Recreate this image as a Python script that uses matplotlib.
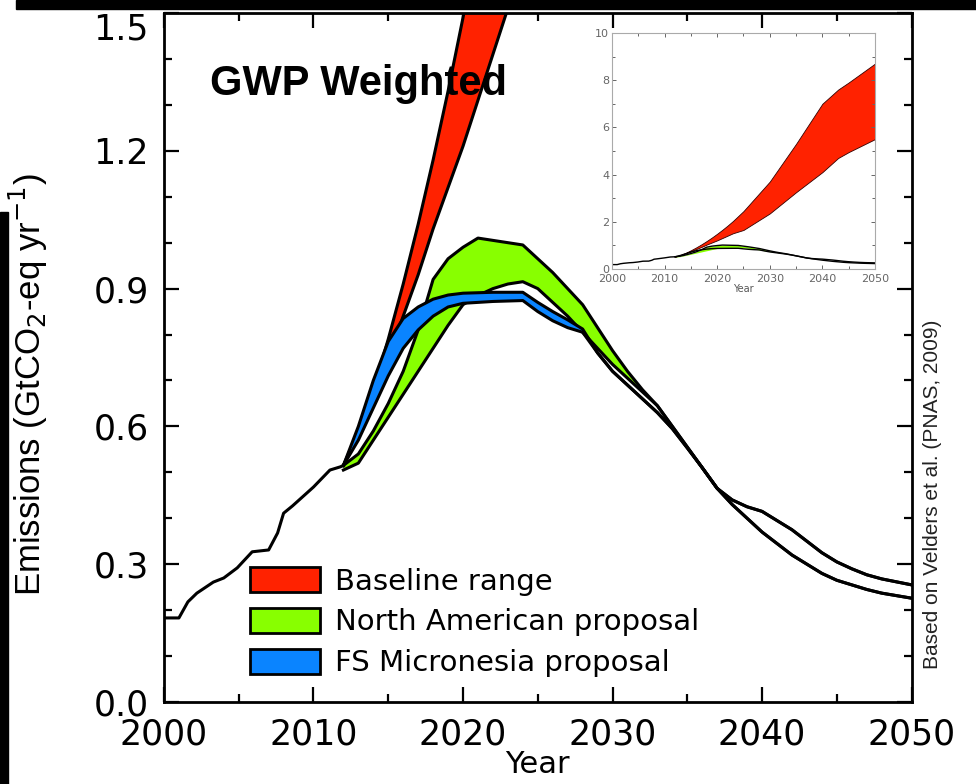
import matplotlib.pyplot as plt
from matplotlib.patches import Patch, Rectangle
from matplotlib.ticker import MultipleLocator, FormatStrFormatter
from matplotlib.transforms import ScaledTranslation

# historical emissions (single line)
hist_years = [2000, 2001, 2001.6, 2002.2, 2003.3, 2004, 2004.9, 2005.9, 2007, 2007.6,
              2008, 2008.6, 2010, 2011.1, 2011.8, 2012]
hist_vals = [0.183, 0.183, 0.218, 0.237, 0.261, 0.27, 0.292, 0.327, 0.331, 0.368,
             0.411, 0.427, 0.468, 0.505, 0.512, 0.515]

# baseline range
base_years = [2012, 2013, 2014, 2015, 2016, 2017, 2018, 2019, 2020, 2021, 2022, 2023,
              2025, 2030, 2035, 2040, 2043, 2045, 2050]
base_high = [0.515, 0.59, 0.68, 0.79, 0.91, 1.04, 1.18, 1.33, 1.49, 1.66, 1.84, 2.03,
             2.45, 3.7, 5.3, 7.0, 7.6, 7.9, 8.7]
base_low = [0.515, 0.58, 0.66, 0.75, 0.84, 0.93, 1.03, 1.12, 1.21, 1.31, 1.41, 1.51,
            1.65, 2.35, 3.25, 4.1, 4.7, 4.95, 5.5]

# North American proposal
na_years = [2012, 2013, 2014, 2015, 2016, 2017, 2018, 2019, 2020, 2021, 2022, 2023,
            2024, 2025, 2026, 2027, 2028, 2029, 2030, 2031, 2032, 2033, 2034, 2035,
            2036, 2037, 2038, 2039, 2040, 2041, 2042, 2043, 2044, 2045, 2046, 2047,
            2048, 2050]
na_high = [0.515, 0.54, 0.59, 0.65, 0.72, 0.81, 0.92, 0.965, 0.99, 1.01, 1.005, 1.0,
           0.995, 0.965, 0.935, 0.9, 0.865, 0.815, 0.765, 0.72, 0.68, 0.645, 0.6, 0.555,
           0.51, 0.465, 0.44, 0.425, 0.415, 0.395, 0.375, 0.35, 0.325, 0.305, 0.29, 0.277,
           0.268, 0.255]
na_low = [0.505, 0.52, 0.57, 0.62, 0.67, 0.72, 0.77, 0.82, 0.865, 0.885, 0.9, 0.91,
          0.915, 0.9, 0.87, 0.84, 0.805, 0.77, 0.735, 0.705, 0.675, 0.645, 0.6, 0.555,
          0.51, 0.465, 0.44, 0.425, 0.415, 0.395, 0.375, 0.35, 0.325, 0.305, 0.29, 0.277,
          0.268, 0.255]

# FS Micronesia proposal
fs_years = [2012, 2013, 2014, 2015, 2016, 2017, 2018, 2019, 2020, 2022, 2024, 2025,
            2026, 2027, 2028, 2029, 2030, 2031, 2032, 2033, 2034, 2035, 2036, 2037,
            2038, 2039, 2040, 2041, 2042, 2043, 2044, 2045, 2046, 2047, 2048, 2050]
fs_high = [0.515, 0.6, 0.7, 0.785, 0.835, 0.86, 0.877, 0.886, 0.89, 0.892, 0.892, 0.87,
           0.85, 0.832, 0.812, 0.76, 0.72, 0.69, 0.66, 0.63, 0.595, 0.553, 0.51, 0.465,
           0.43, 0.4, 0.37, 0.345, 0.32, 0.3, 0.28, 0.265, 0.255, 0.245, 0.237, 0.226]
fs_low = [0.515, 0.57, 0.64, 0.71, 0.77, 0.81, 0.84, 0.86, 0.868, 0.872, 0.874, 0.85,
          0.83, 0.815, 0.805, 0.76, 0.72, 0.69, 0.66, 0.63, 0.595, 0.553, 0.51, 0.465,
          0.43, 0.4, 0.37, 0.345, 0.32, 0.3, 0.28, 0.265, 0.255, 0.245, 0.237, 0.226]

labels = ['Baseline range', 'North American proposal', 'FS Micronesia proposal']
colors = ['#ff2200', '#88ff00', '#0a84ff']


def band(ax, x, lo, hi, color, lw, z):
    ax.fill_between(x, lo, hi, color=color, lw=0, zorder=z)
    ax.plot(x, lo, color='black', lw=lw, zorder=z + 0.1, solid_joinstyle='round')
    ax.plot(x, hi, color='black', lw=lw, zorder=z + 0.1, solid_joinstyle='round')


fig = plt.figure(figsize=(9.76, 7.84), dpi=100)
ax = fig.add_axes([0.168, 0.1046, 0.766, 0.8788])

ax.plot(hist_years, hist_vals, color='black', lw=2.2, zorder=5)
band(ax, base_years, base_low, base_high, colors[0], 2.2, 2)
band(ax, na_years, na_low, na_high, colors[1], 2.2, 3)
band(ax, fs_years, fs_low, fs_high, colors[2], 2.2, 4)

ax.set_xlim(2000, 2050)
ax.set_ylim(0, 1.5)
ax.xaxis.set_major_locator(MultipleLocator(10))
ax.xaxis.set_minor_locator(MultipleLocator(5))
ax.yaxis.set_major_locator(MultipleLocator(0.3))
ax.yaxis.set_minor_locator(MultipleLocator(0.1))
ax.yaxis.set_major_formatter(FormatStrFormatter('%.1f'))
ax.tick_params(which='both', direction='in', top=True, right=True, width=1.6)
ax.tick_params(which='major', length=11, labelsize=25, pad=11)
ax.tick_params(which='minor', length=6)
for s in ax.spines.values():
    s.set_linewidth(2)

# top label "1.5" sits a little lower in the original, below the border
locs = ax.yaxis.get_majorticklocs()
for loc, tick in zip(locs, ax.yaxis.get_major_ticks(len(locs))):
    if abs(loc - 1.5) < 1e-6:
        lbl = tick.label1
        lbl.set_transform(lbl.get_transform() +
                          ScaledTranslation(0, -9 / 72, fig.dpi_scale_trans))

ax.set_xlabel('Year', fontsize=22)
ax.xaxis.set_label_coords(0.5, -0.07)
ax.set_ylabel('Emissions (GtCO$_2$-eq yr$^{-1}$)', fontsize=25, family='Liberation Sans')
ax.yaxis.set_label_coords(-0.152, 0.46)

handles = [Patch(facecolor=c, edgecolor='black', linewidth=2) for c in colors]
ax.legend(handles, labels, loc='upper left', bbox_to_anchor=(0.115, 0.196),
          frameon=False, fontsize=21, handlelength=2.4, handleheight=0.95,
          handletextpad=0.5, labelspacing=0.42, borderpad=0, borderaxespad=0)

# inset with the full baseline range
ins = fig.add_axes([0.627, 0.657, 0.2695, 0.301])
ins.fill_between(base_years, base_low, base_high, color=colors[0], lw=0.6,
                 edgecolor='#330000')
ins.fill_between(na_years, na_low, na_high, color=colors[1], lw=0)
ins.plot(hist_years, hist_vals, color='black', lw=1)
ins.plot(na_years, na_high, color='black', lw=1)
ins.plot(fs_years, fs_low, color='black', lw=1)
ins.set_xlim(2000, 2050)
ins.set_ylim(0, 10)
ins.xaxis.set_major_locator(MultipleLocator(10))
ins.xaxis.set_minor_locator(MultipleLocator(5))
ins.yaxis.set_major_locator(MultipleLocator(2))
ins.yaxis.set_minor_locator(MultipleLocator(1))
ins.tick_params(which='both', direction='in', top=True, right=True, colors='#666666',
                labelsize=8, width=0.7)
ins.tick_params(axis='x', pad=4)
ins.tick_params(axis='y', pad=2)
ins.tick_params(which='major', length=3)
ins.tick_params(which='minor', length=2)
for s in ins.spines.values():
    s.set_color('#aaaaaa')
    s.set_linewidth(0.8)
ins.set_xlabel('Year', fontsize=7, color='#555555', labelpad=0)

# overlay text and screenshot borders
fig.text(210 / 976, 1 - 95 / 784, 'GWP Weighted', fontsize=30, fontweight='bold',
         family='Liberation Sans', va='baseline')
fig.text(933 / 976, 1 - 494 / 784, 'Based on Velders et al. (PNAS, 2009)', rotation=90,
         ha='center', va='center', fontsize=15, family='Liberation Sans', color='#222222')
fig.add_artist(Rectangle((16 / 976, 1 - 9 / 784), 1, 9 / 784, transform=fig.transFigure,
                         color='black', zorder=10))
fig.add_artist(Rectangle((0, 0), 8 / 976, 572 / 784, transform=fig.transFigure,
                         color='black', zorder=10))

fig.savefig('out.png', dpi=100)
